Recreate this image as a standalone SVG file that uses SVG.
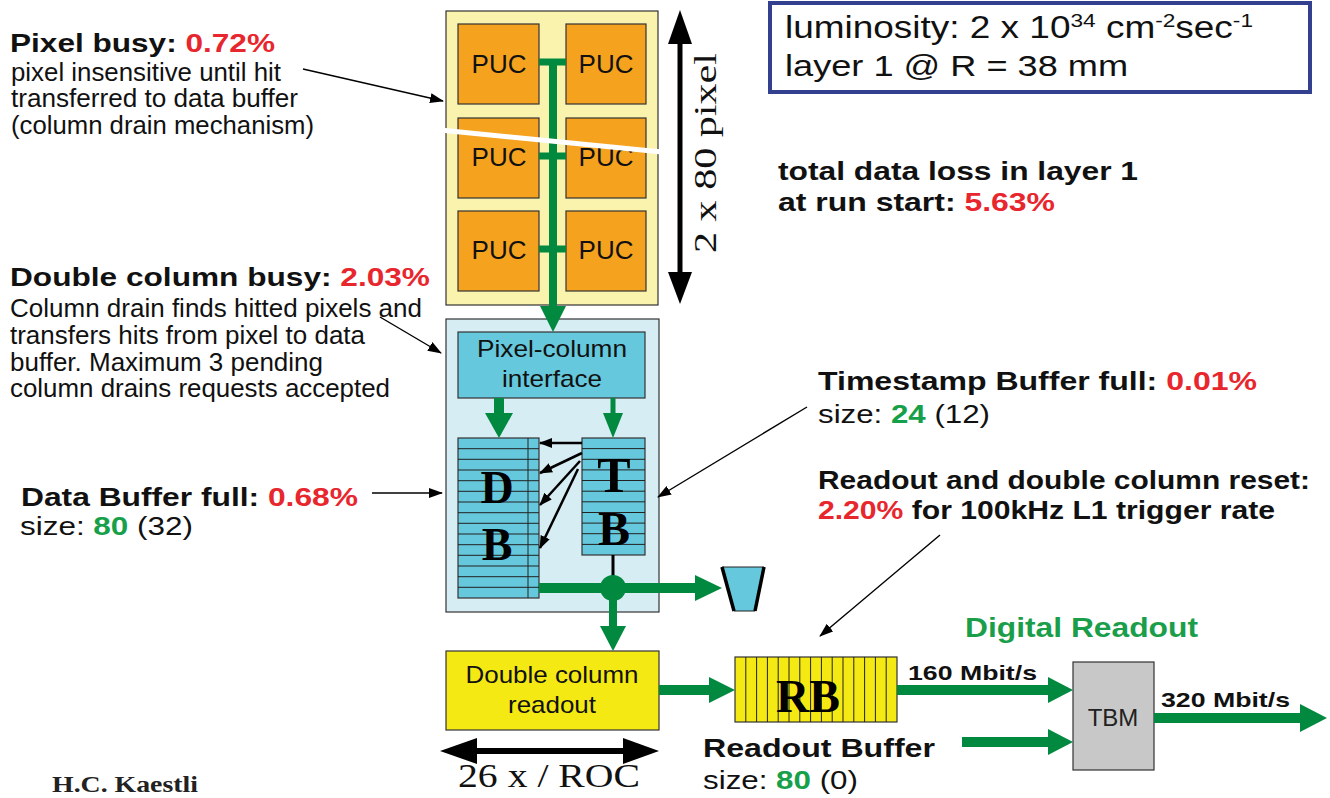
<svg xmlns="http://www.w3.org/2000/svg" width="1330" height="798" viewBox="0 0 1330 798">
  <style>
    .sans { font-family: "Liberation Sans", Arial, sans-serif; }
    .serif { font-family: "Liberation Serif", "Times New Roman", serif; }
    .b { font-weight: bold; }
    .red { fill: #e8262d; }
    .grn { fill: #17a04a; }
    .box { stroke: #333; stroke-width: 1.2; }
    .puc { fill: #f5a21f; stroke: #333; stroke-width: 1.2; }
    .stripe { stroke: #222; stroke-width: 1; }
    .gfill { fill: #00893f; }
    .gline { stroke: #00893f; fill: none; }
    .thin { stroke: #000; stroke-width: 1.4; fill: none; }
  </style>
  <defs>
    <marker id="ah" viewBox="0 0 14 10" refX="13" refY="5" markerWidth="14" markerHeight="10" markerUnits="userSpaceOnUse" orient="auto">
      <path d="M0,0 L14,5 L0,10 Z" fill="#000"/>
    </marker>
    <marker id="ah2" viewBox="0 0 13 10" refX="12" refY="5" markerWidth="13" markerHeight="10" markerUnits="userSpaceOnUse" orient="auto">
      <path d="M0,0 L13,5 L0,10 Z" fill="#000"/>
    </marker>
  </defs>

  <rect width="1330" height="798" fill="#fff"/>

  <!-- pixel double column -->
  <g id="pixel-array">
    <rect x="446" y="11" width="212" height="294" fill="#faf3ae" class="box"/>
    <rect class="puc" x="458" y="24" width="81" height="80"/>
    <rect class="puc" x="566" y="24" width="80" height="80"/>
    <rect class="puc" x="458" y="118" width="81" height="80"/>
    <rect class="puc" x="566" y="118" width="80" height="80"/>
    <rect class="puc" x="458" y="211" width="81" height="80"/>
    <rect class="puc" x="566" y="211" width="80" height="80"/>
    <g class="sans" font-size="26" text-anchor="middle" fill="#111">
      <text x="499" y="73">PUC</text>
      <text x="606" y="73">PUC</text>
      <text x="499" y="166">PUC</text>
      <text x="606" y="166">PUC</text>
      <text x="499" y="259">PUC</text>
      <text x="606" y="259">PUC</text>
    </g>
  </g>

  <!-- periphery of the double column -->
  <g id="dc-periphery">
    <rect x="446" y="319" width="213" height="293" fill="#d6edf4" class="box"/>
  </g>

  <g id="pixel-column-interface">
    <rect x="458" y="332" width="187" height="66" fill="#66c8dc" class="box"/>
    <text class="sans" font-size="24" text-anchor="middle" x="552" y="357" fill="#111" textLength="150" lengthAdjust="spacingAndGlyphs">Pixel-column</text>
    <text class="sans" font-size="24" text-anchor="middle" x="552" y="387" fill="#111" textLength="100" lengthAdjust="spacingAndGlyphs">interface</text>
  </g>

  <g id="data-buffer">
    <rect x="458" y="438" width="81" height="160" fill="#66c8dc" class="box"/>
    <g class="stripe">
      <line x1="458" y1="448.7" x2="539" y2="448.7"/>
      <line x1="458" y1="459.3" x2="539" y2="459.3"/>
      <line x1="458" y1="470" x2="539" y2="470"/>
      <line x1="458" y1="480.7" x2="539" y2="480.7"/>
      <line x1="458" y1="491.3" x2="539" y2="491.3"/>
      <line x1="458" y1="502" x2="539" y2="502"/>
      <line x1="458" y1="512.7" x2="539" y2="512.7"/>
      <line x1="458" y1="523.3" x2="539" y2="523.3"/>
      <line x1="458" y1="534" x2="539" y2="534"/>
      <line x1="458" y1="544.7" x2="539" y2="544.7"/>
      <line x1="458" y1="555.3" x2="539" y2="555.3"/>
      <line x1="458" y1="566" x2="539" y2="566"/>
      <line x1="458" y1="576.7" x2="539" y2="576.7"/>
      <line x1="458" y1="587.3" x2="539" y2="587.3"/>
      <line x1="528" y1="438" x2="528" y2="598"/>
    </g>
    <text class="serif b" font-size="46" text-anchor="middle" x="497" y="503" fill="#000">D</text>
    <text class="serif b" font-size="46" text-anchor="middle" x="497" y="560" fill="#000">B</text>
  </g>

  <g id="timestamp-buffer">
    <rect x="582" y="438" width="63" height="117" fill="#66c8dc" class="box"/>
    <g class="stripe">
      <line x1="582" y1="448.6" x2="645" y2="448.6"/>
      <line x1="582" y1="459.3" x2="645" y2="459.3"/>
      <line x1="582" y1="469.9" x2="645" y2="469.9"/>
      <line x1="582" y1="480.5" x2="645" y2="480.5"/>
      <line x1="582" y1="491.2" x2="645" y2="491.2"/>
      <line x1="582" y1="501.8" x2="645" y2="501.8"/>
      <line x1="582" y1="512.5" x2="645" y2="512.5"/>
      <line x1="582" y1="523.1" x2="645" y2="523.1"/>
      <line x1="582" y1="533.7" x2="645" y2="533.7"/>
      <line x1="582" y1="544.4" x2="645" y2="544.4"/>
    </g>
    <text class="serif b" font-size="50" text-anchor="middle" x="614" y="492" fill="#000">T</text>
    <text class="serif b" font-size="48" text-anchor="middle" x="614" y="545" fill="#000">B</text>
  </g>

  <g id="overflow-bin">
    <polygon points="722,567 764,567 755,611 734,611" fill="#66c8dc" stroke="#222" stroke-width="1"/>
    <line x1="722" y1="567" x2="734" y2="611" stroke="#000" stroke-width="3.5"/>
    <line x1="764" y1="567" x2="755" y2="611" stroke="#000" stroke-width="3.5"/>
  </g>

  <g id="dc-readout">
    <rect x="446" y="651" width="213" height="79" fill="#f5e914" class="box"/>
    <text class="sans" font-size="24" text-anchor="middle" x="552" y="683" fill="#111" textLength="173" lengthAdjust="spacingAndGlyphs">Double column</text>
    <text class="sans" font-size="24" text-anchor="middle" x="552" y="713" fill="#111" textLength="88" lengthAdjust="spacingAndGlyphs">readout</text>
  </g>

  <g id="readout-buffer">
    <rect x="735" y="657" width="162" height="65" fill="#f5e914" class="box"/>
    <g class="stripe">
      <line x1="745.8" y1="657" x2="745.8" y2="722"/>
      <line x1="756.6" y1="657" x2="756.6" y2="722"/>
      <line x1="767.4" y1="657" x2="767.4" y2="722"/>
      <line x1="778.2" y1="657" x2="778.2" y2="722"/>
      <line x1="789" y1="657" x2="789" y2="722"/>
      <line x1="799.8" y1="657" x2="799.8" y2="722"/>
      <line x1="810.6" y1="657" x2="810.6" y2="722"/>
      <line x1="821.4" y1="657" x2="821.4" y2="722"/>
      <line x1="832.2" y1="657" x2="832.2" y2="722"/>
      <line x1="843" y1="657" x2="843" y2="722"/>
      <line x1="853.8" y1="657" x2="853.8" y2="722"/>
      <line x1="864.6" y1="657" x2="864.6" y2="722"/>
      <line x1="875.4" y1="657" x2="875.4" y2="722"/>
      <line x1="886.2" y1="657" x2="886.2" y2="722"/>
    </g>
    <text class="serif b" font-size="46" text-anchor="middle" x="808" y="712" fill="#000">RB</text>
  </g>

  <g id="tbm">
    <rect x="1073" y="662" width="81" height="108" fill="#c8c8c8" class="box"/>
    <text class="sans" font-size="24" text-anchor="middle" x="1113" y="726" fill="#222">TBM</text>
  </g>

  <g id="luminosity-box">
    <rect x="770" y="3" width="540" height="89" fill="#fff" stroke="#33408f" stroke-width="4"/>
    <text class="sans" font-size="31" x="785" y="38" fill="#111" textLength="468" lengthAdjust="spacingAndGlyphs">luminosity:  2 x 10<tspan font-size="19" dy="-11">34</tspan><tspan dy="11"> cm</tspan><tspan font-size="19" dy="-11">-2</tspan><tspan dy="11">sec</tspan><tspan font-size="19" dy="-11">-1</tspan></text>
    <text class="sans" font-size="30" x="785" y="76" fill="#111" textLength="343" lengthAdjust="spacingAndGlyphs">layer 1 @ R = 38 mm</text>
  </g>

  <!-- flow lines and pointers -->
  <g id="connectors">
    <!-- column drain bus -->
    <line class="gline" x1="553" y1="62" x2="553" y2="308" stroke-width="8"/>
    <line class="gline" x1="539" y1="62" x2="566" y2="62" stroke-width="7"/>
    <line class="gline" x1="539" y1="156" x2="566" y2="156" stroke-width="7"/>
    <line class="gline" x1="539" y1="249" x2="566" y2="249" stroke-width="7"/>
    <polygon class="gfill" points="540,306 566,306 553,332"/>
    <!-- cut marking the omitted pixel rows -->
    <line x1="440" y1="130" x2="662" y2="152" stroke="#fff" stroke-width="5"/>

    <!-- interface to buffers -->
    <line class="gline" x1="499" y1="398" x2="499" y2="414" stroke-width="10"/>
    <polygon class="gfill" points="485,413 513,413 499,438"/>
    <line class="gline" x1="613" y1="398" x2="613" y2="414" stroke-width="5"/>
    <polygon class="gfill" points="603,413 623,413 613,438"/>

    <!-- timestamp to data buffer pointers -->
    <g stroke="#000" stroke-width="2.5" fill="none" marker-end="url(#ah2)">
      <line x1="582" y1="443" x2="540" y2="443"/>
      <line x1="582" y1="453" x2="540" y2="473"/>
      <line x1="580" y1="461" x2="540" y2="505"/>
      <line x1="578" y1="469" x2="540" y2="548"/>
    </g>

    <!-- readout path -->
    <line x1="613" y1="555" x2="613" y2="588" stroke="#000" stroke-width="3"/>
    <line class="gline" x1="539" y1="588" x2="697" y2="588" stroke-width="10"/>
    <polygon class="gfill" points="695,575 695,601 722,588"/>
    <circle class="gfill" cx="613" cy="588" r="13"/>
    <line class="gline" x1="613" y1="588" x2="613" y2="628" stroke-width="8"/>
    <polygon class="gfill" points="600,626 626,626 613,651"/>

    <line class="gline" x1="659" y1="690" x2="711" y2="690" stroke-width="10"/>
    <polygon class="gfill" points="709,677 709,703 735,690"/>
    <line class="gline" x1="897" y1="690" x2="1050" y2="690" stroke-width="10"/>
    <polygon class="gfill" points="1048,677 1048,703 1073,690"/>
    <line class="gline" x1="962" y1="742" x2="1050" y2="742" stroke-width="10"/>
    <polygon class="gfill" points="1048,729 1048,755 1073,742"/>
    <line class="gline" x1="1154" y1="718" x2="1302" y2="718" stroke-width="10"/>
    <polygon class="gfill" points="1300,704 1300,732 1327,718"/>

    <!-- dimension arrows -->
    <line x1="680" y1="40" x2="680" y2="276" stroke="#000" stroke-width="5"/>
    <polygon points="668,44 692,44 680,10" fill="#000"/>
    <polygon points="668,272 692,272 680,304" fill="#000"/>
    <line x1="474" y1="751" x2="626" y2="751" stroke="#000" stroke-width="6"/>
    <polygon points="477,738 477,764 440,751" fill="#000"/>
    <polygon points="623,738 623,764 659,751" fill="#000"/>

    <!-- annotation pointers -->
    <line class="thin" x1="303" y1="69" x2="443" y2="101" marker-end="url(#ah)"/>
    <line class="thin" x1="380" y1="317" x2="441" y2="353" marker-end="url(#ah)"/>
    <line class="thin" x1="372" y1="493" x2="442" y2="493" marker-end="url(#ah)"/>
    <line class="thin" x1="807" y1="407" x2="658" y2="497" marker-end="url(#ah)"/>
    <line class="thin" x1="940" y1="535" x2="820" y2="636" marker-end="url(#ah)"/>
  </g>

  <!-- annotations -->
  <g id="label-pixel-busy" class="sans" fill="#111">
    <text class="b" font-size="25" x="10" y="52" textLength="265" lengthAdjust="spacingAndGlyphs">Pixel busy: <tspan class="red">0.72%</tspan></text>
    <text font-size="25" x="11" y="81" textLength="270" lengthAdjust="spacingAndGlyphs">pixel insensitive until hit</text>
    <text font-size="25" x="11" y="107" textLength="287" lengthAdjust="spacingAndGlyphs">transferred to data buffer</text>
    <text font-size="25" x="11" y="134" textLength="303" lengthAdjust="spacingAndGlyphs">(column drain mechanism)</text>
  </g>

  <g id="label-dc-busy" class="sans" fill="#111">
    <text class="b" font-size="25" x="10" y="286" textLength="420" lengthAdjust="spacingAndGlyphs">Double column busy: <tspan class="red">2.03%</tspan></text>
    <text font-size="25" x="10" y="317" textLength="412" lengthAdjust="spacingAndGlyphs">Column drain finds hitted pixels and</text>
    <text font-size="25" x="10" y="344" textLength="355" lengthAdjust="spacingAndGlyphs">transfers hits from pixel to data</text>
    <text font-size="25" x="10" y="371" textLength="313" lengthAdjust="spacingAndGlyphs">buffer. Maximum 3 pending</text>
    <text font-size="25" x="10" y="397" textLength="380" lengthAdjust="spacingAndGlyphs">column drains requests accepted</text>
  </g>

  <g id="label-db-full" class="sans" fill="#111">
    <text class="b" font-size="25" x="21" y="506" textLength="337" lengthAdjust="spacingAndGlyphs">Data Buffer full: <tspan class="red">0.68%</tspan></text>
    <text font-size="26" x="20" y="535" textLength="173" lengthAdjust="spacingAndGlyphs">size: <tspan class="grn b">80</tspan> (32)</text>
  </g>

  <g id="label-total-loss" class="sans b" fill="#111">
    <text font-size="25" x="778" y="180" textLength="360" lengthAdjust="spacingAndGlyphs">total data loss in layer 1</text>
    <text font-size="25" x="778" y="211" textLength="277" lengthAdjust="spacingAndGlyphs">at run start: <tspan class="red">5.63%</tspan></text>
  </g>

  <g id="label-tb-full" class="sans" fill="#111">
    <text class="b" font-size="25" x="818" y="390" textLength="439" lengthAdjust="spacingAndGlyphs">Timestamp Buffer full: <tspan class="red">0.01%</tspan></text>
    <text font-size="26" x="818" y="423" textLength="172" lengthAdjust="spacingAndGlyphs">size: <tspan class="grn b">24</tspan> (12)</text>
  </g>

  <g id="label-readout-reset" class="sans b" fill="#111">
    <text font-size="25" x="818" y="489" textLength="492" lengthAdjust="spacingAndGlyphs">Readout and double column reset:</text>
    <text font-size="25" x="818" y="519" textLength="457" lengthAdjust="spacingAndGlyphs"><tspan class="red">2.20%</tspan> for 100kHz L1 trigger rate</text>
  </g>

  <g id="label-digital-readout" class="sans b">
    <text font-size="27" x="965" y="637" fill="#1a9e4a" textLength="233" lengthAdjust="spacingAndGlyphs">Digital Readout</text>
    <text font-size="21" x="908" y="680" fill="#111" textLength="129" lengthAdjust="spacingAndGlyphs">160 Mbit/s</text>
    <text font-size="21" x="1161" y="707" fill="#111" textLength="129" lengthAdjust="spacingAndGlyphs">320 Mbit/s</text>
  </g>

  <g id="label-rb" class="sans" fill="#111">
    <text class="b" font-size="25" x="703" y="757" textLength="232" lengthAdjust="spacingAndGlyphs">Readout Buffer</text>
    <text font-size="26" x="703" y="789" textLength="155" lengthAdjust="spacingAndGlyphs">size: <tspan class="grn b">80</tspan> (0)</text>
  </g>

  <g id="dimension-labels" class="serif" fill="#111">
    <text font-size="32" text-anchor="middle" transform="translate(716,153) rotate(-90)" textLength="200" lengthAdjust="spacingAndGlyphs">2 x 80 pixel</text>
    <text font-size="34" x="458" y="787" textLength="182" lengthAdjust="spacingAndGlyphs">26 x / ROC</text>
  </g>

  <g id="author">
    <text class="serif b" font-size="23" x="52" y="792" fill="#222" textLength="146" lengthAdjust="spacingAndGlyphs">H.C. Kaestli</text>
  </g>
</svg>
